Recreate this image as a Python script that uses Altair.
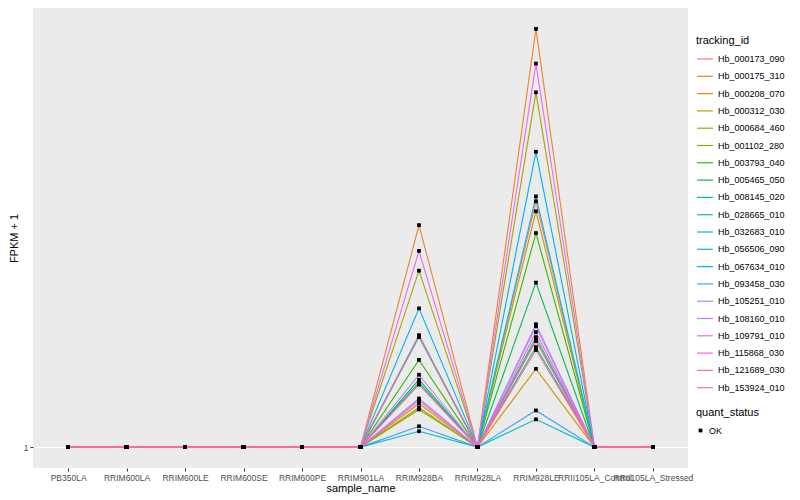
import altair as alt
import pandas as pd

samples = ["PB350LA", "RRIM600LA", "RRIM600LE", "RRIM600SE", "RRIM600PE",
           "RRIM901LA", "RRIM928BA", "RRIM928LA", "RRIM928LE",
           "RRII105LA_Control", "RRII105LA_Stressed"]

tracking_ids = ["Hb_000173_090", "Hb_000175_310", "Hb_000208_070", "Hb_000312_030",
                "Hb_000684_460", "Hb_001102_280", "Hb_003793_040", "Hb_005465_050",
                "Hb_008145_020", "Hb_028665_010", "Hb_032683_010", "Hb_056506_090",
                "Hb_067634_010", "Hb_093458_030", "Hb_105251_010", "Hb_108160_010",
                "Hb_109791_010", "Hb_115868_030", "Hb_121689_030", "Hb_153924_010"]

colors = ["#F8766D", "#EA8331", "#D89000", "#C09B00", "#A3A500", "#7CAE00",
          "#39B600", "#00BB4E", "#00BF7D", "#00C1A3", "#00BFC4", "#00BAE0",
          "#00B0F6", "#35A2FF", "#9590FF", "#C77CFF", "#E76BF3", "#FA62DB",
          "#FF62BC", "#FF6C91"]

# FPKM + 1 at RRIM928BA and RRIM928LE (all other samples are 1)
ba_values = [3.24, 5.48, 1.88, 1.80, 4.56, 1.76, 2.76, 2.36, 2.30, 3.22,
             1.32, 3.26, 3.80, 1.42, 1.98, 2.46, 4.96, 1.94, 2.26, 3.24]
le_values = [5.96, 9.44, 2.58, 5.76, 8.16, 3.16, 5.32, 4.32, 3.02, 3.22,
             1.56, 6.06, 6.96, 1.74, 3.44, 3.48, 8.74, 3.32, 3.14, 2.96]

rows = []
for i, tid in enumerate(tracking_ids):
    for j, s in enumerate(samples):
        v = 1.0
        if s == "RRIM928BA":
            v = ba_values[i]
        elif s == "RRIM928LE":
            v = le_values[i]
        rows.append({"tracking_id": tid, "sample_name": s, "fpkm1": v,
                     "quant_status": "OK", "ord": i})
df = pd.DataFrame(rows)

vmax = max(le_values)
vmin = 1.0
ext = (vmax - vmin) * 0.05

x = alt.X("sample_name:N", sort=samples, title="sample_name",
          scale=alt.Scale(type="point", padding=0.6),
          axis=alt.Axis(labelAngle=0, labelOverlap=False, labelBound=False,
                        labelLimit=0, gridColor="white", gridWidth=1.1,
                        tickColor="#333333", tickSize=3, domain=False,
                        labelColor="#4D4D4D", labelFontSize=8.5, labelPadding=2,
                        titleFontSize=11, titleFontWeight="normal", titlePadding=1))
y = alt.Y("fpkm1:Q", title="FPKM + 1",
          scale=alt.Scale(domain=[vmin - ext, vmax + ext], nice=False, zero=False),
          axis=alt.Axis(values=[1], format="d", gridColor="white", gridWidth=1.1,
                        tickColor="#333333", tickSize=3, domain=False,
                        labelColor="#4D4D4D", labelFontSize=8.5, labelPadding=2,
                        titleFontSize=11, titleFontWeight="normal", titlePadding=4))

lines = alt.Chart(df).mark_line(strokeWidth=1.1).encode(
    x=x, y=y,
    color=alt.Color("tracking_id:N", sort=tracking_ids,
                    scale=alt.Scale(domain=tracking_ids, range=colors),
                    legend=alt.Legend(title="tracking_id", symbolType="stroke",
                                      symbolSize=250, symbolStrokeWidth=1.2,
                                      rowPadding=3.3, labelFontSize=9,
                                      titleFontSize=11, titleFontWeight="normal",
                                      titlePadding=4, orient="none",
                                      legendX=663, legendY=27)),
    order=alt.Order("ord:Q"),
    detail="tracking_id:N",
)

points = alt.Chart(df).mark_point(filled=True, size=14, opacity=1, color="black").encode(
    x=x, y=y,
    shape=alt.Shape("quant_status:N",
                    scale=alt.Scale(domain=["OK"], range=["square"]),
                    legend=alt.Legend(title="quant_status", symbolSize=14,
                                      symbolFillColor="black", labelFontSize=9,
                                      titleFontSize=11, titleFontWeight="normal",
                                      titlePadding=8, orient="none",
                                      legendX=663, legendY=399)),
)

chart = (lines + points).properties(
    width=655, height=460, padding={"left": 0, "top": 0, "right": 0, "bottom": 0}
).configure(
    font="Liberation Sans"
).configure_view(fill="#EBEBEB", strokeWidth=0).configure_legend(
    labelColor="black", titleColor="black")

chart.save("out.html", embed_options={"renderer": "svg", "actions": False})
